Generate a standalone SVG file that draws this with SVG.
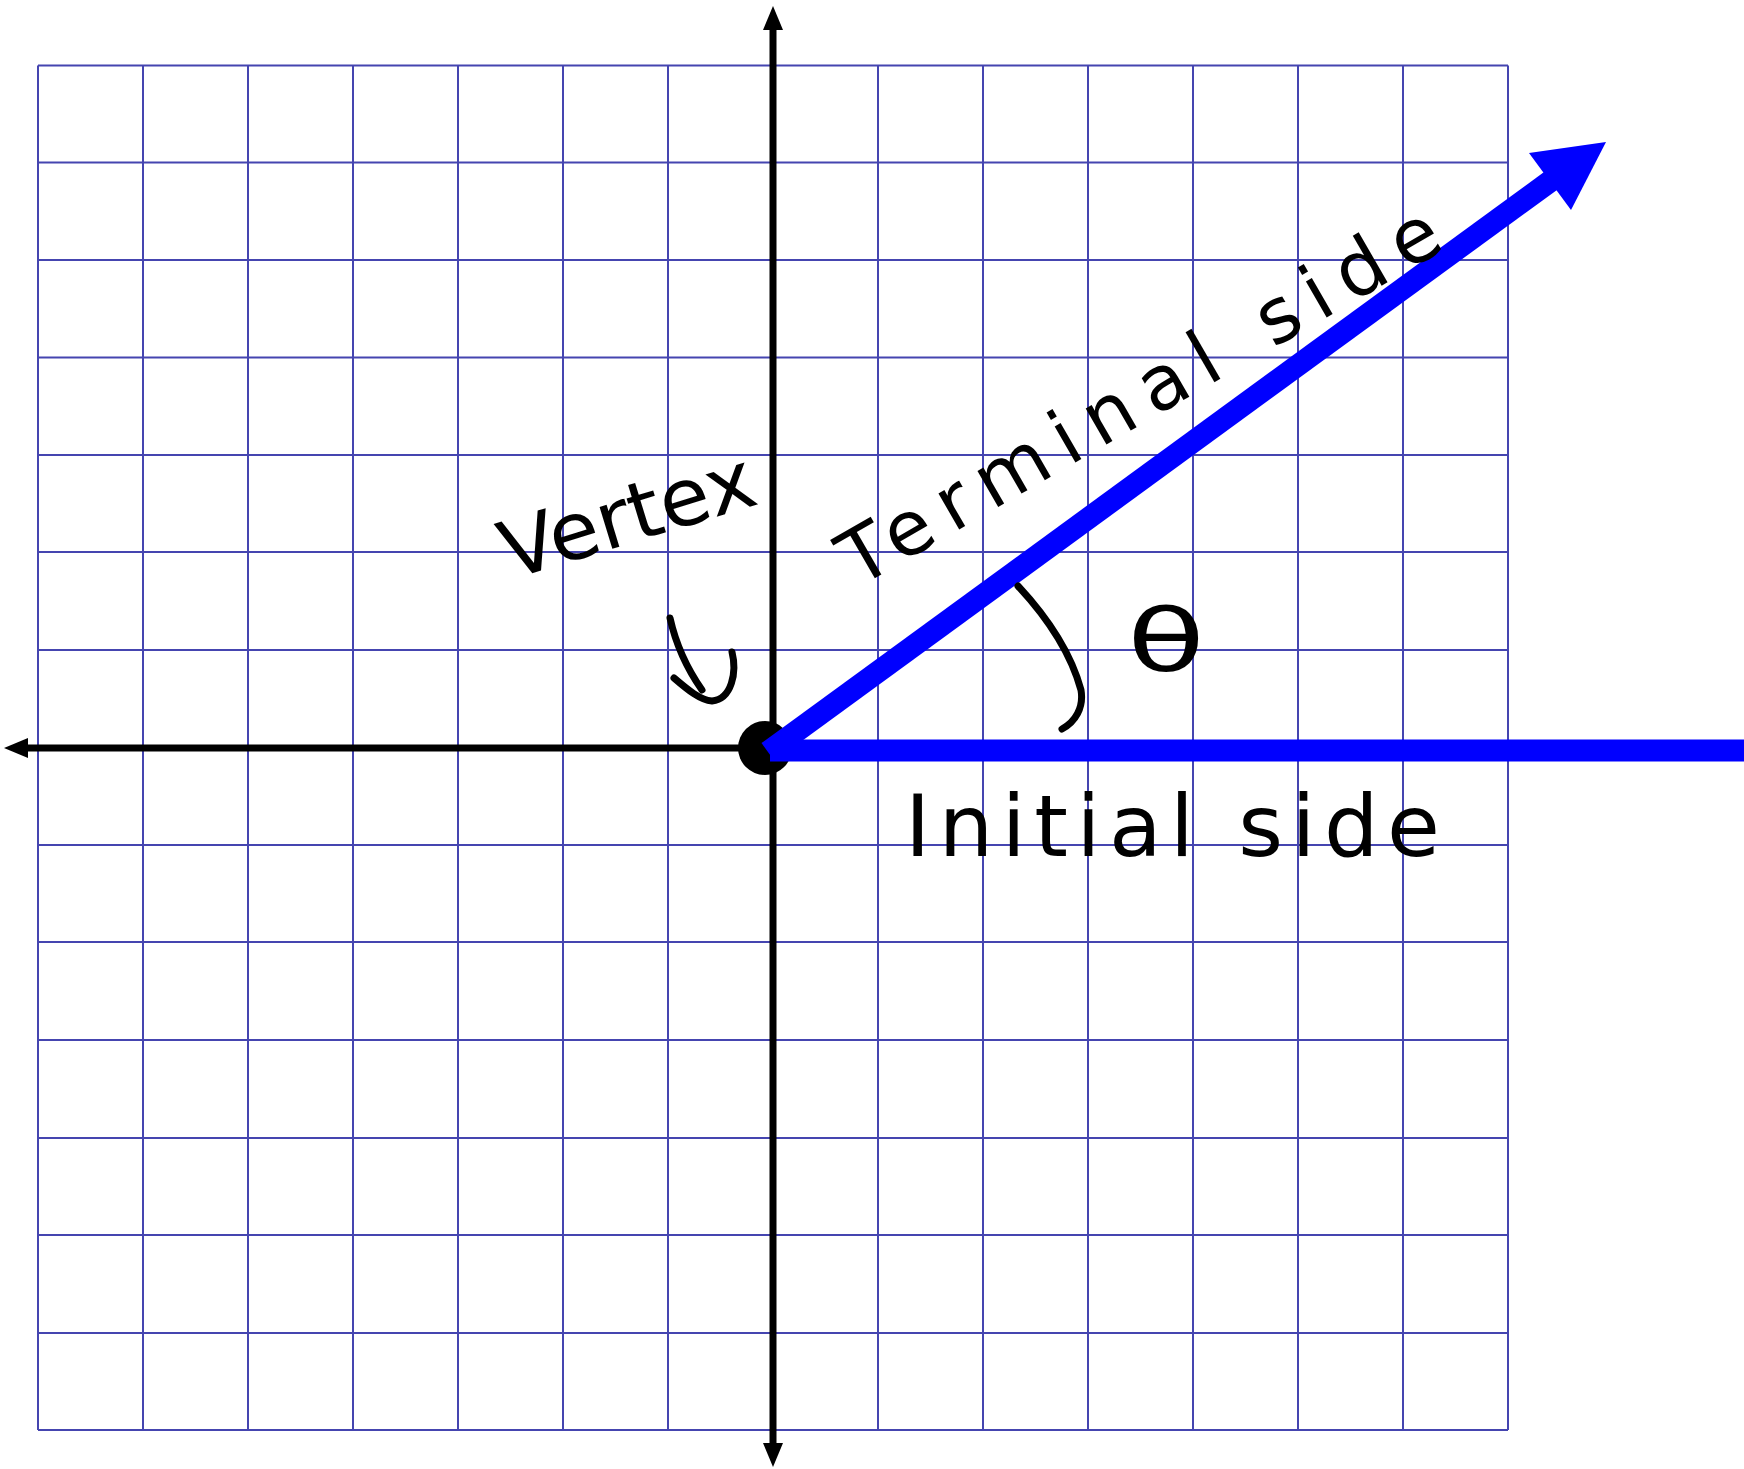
<svg xmlns="http://www.w3.org/2000/svg" width="1744" height="1469" viewBox="0 0 1744 1469">
  <style>
    .grid line { stroke: #4545b0; stroke-width: 2; }
    .axis { stroke: #000; stroke-width: 7; fill: none; }
    .ray { stroke: #0000ff; stroke-width: 22; fill: none; }
    .ink { stroke: #000; stroke-width: 7; fill: none; stroke-linecap: round; stroke-linejoin: round; }
    .hand { font-family: "DejaVu Sans", "Liberation Sans", sans-serif; fill: #000; }
  </style>
  <defs>
    <marker id="axhead" markerUnits="userSpaceOnUse" markerWidth="24" markerHeight="24" viewBox="0 0 24 24" refX="4" refY="12" orient="auto-start-reverse">
      <polygon points="0,2 24,12 0,22" fill="#000"/>
    </marker>
  </defs>
  <rect width="1744" height="1469" fill="#fff"/>
  <g id="grid" class="grid">
    <line x1="38" y1="65.5" x2="38" y2="1430"/>
    <line x1="143" y1="65.5" x2="143" y2="1430"/>
    <line x1="248" y1="65.5" x2="248" y2="1430"/>
    <line x1="353" y1="65.5" x2="353" y2="1430"/>
    <line x1="458" y1="65.5" x2="458" y2="1430"/>
    <line x1="563" y1="65.5" x2="563" y2="1430"/>
    <line x1="668" y1="65.5" x2="668" y2="1430"/>
    <line x1="773" y1="65.5" x2="773" y2="1430"/>
    <line x1="878" y1="65.5" x2="878" y2="1430"/>
    <line x1="983" y1="65.5" x2="983" y2="1430"/>
    <line x1="1088" y1="65.5" x2="1088" y2="1430"/>
    <line x1="1193" y1="65.5" x2="1193" y2="1430"/>
    <line x1="1298" y1="65.5" x2="1298" y2="1430"/>
    <line x1="1403" y1="65.5" x2="1403" y2="1430"/>
    <line x1="1508" y1="65.5" x2="1508" y2="1430"/>
    <line x1="38" y1="65.5" x2="1508" y2="65.5"/>
    <line x1="38" y1="162.5" x2="1508" y2="162.5"/>
    <line x1="38" y1="260" x2="1508" y2="260"/>
    <line x1="38" y1="357.5" x2="1508" y2="357.5"/>
    <line x1="38" y1="455" x2="1508" y2="455"/>
    <line x1="38" y1="552" x2="1508" y2="552"/>
    <line x1="38" y1="650" x2="1508" y2="650"/>
    <line x1="38" y1="748" x2="1508" y2="748"/>
    <line x1="38" y1="845" x2="1508" y2="845"/>
    <line x1="38" y1="942" x2="1508" y2="942"/>
    <line x1="38" y1="1040" x2="1508" y2="1040"/>
    <line x1="38" y1="1138" x2="1508" y2="1138"/>
    <line x1="38" y1="1235" x2="1508" y2="1235"/>
    <line x1="38" y1="1333" x2="1508" y2="1333"/>
    <line x1="38" y1="1430" x2="1508" y2="1430"/>
  </g>
  <g id="connectors">
    <line id="y-axis" class="axis" x1="773" y1="26" x2="773" y2="1447" marker-start="url(#axhead)" marker-end="url(#axhead)"/>
    <line id="x-axis" class="axis" x1="24" y1="748" x2="773" y2="748" marker-start="url(#axhead)"/>
  </g>
  <g id="vertex-node">
    <circle cx="765" cy="748" r="27" fill="#000"/>
  </g>
  <g id="initial-side">
    <line class="ray" x1="770" y1="750.5" x2="1744" y2="750.5"/>
  </g>
  <g id="terminal-side">
    <line class="ray" x1="768" y1="752" x2="1556" y2="177"/>
    <polygon points="1606,142 1529,153 1571,210" fill="#0000ff"/>
  </g>
  <g id="vertex-label">
    <text class="hand" x="510" y="580" font-size="80" textLength="262" lengthAdjust="spacingAndGlyphs" transform="rotate(-17 510 580)">Vertex</text>
    <path class="ink" d="M670,618 C676,645 688,670 702,690 M674,678 C688,690 700,700 712,701 C732,699 737,672 732,652"/>
  </g>
  <g id="terminal-label">
    <text class="hand" x="858" y="588" font-size="76" textLength="680" transform="rotate(-30 858 588)">Terminal side</text>
  </g>
  <g id="angle-label">
    <path class="ink" d="M1018,586 C1045,615 1070,650 1081,690 C1084,708 1075,722 1062,729"/>
    <text class="hand" x="0" y="0" font-size="88" text-anchor="middle" transform="translate(1166 671) scale(1.45 1)">θ</text>
  </g>
  <g id="initial-label">
    <text class="hand" x="905" y="856" font-size="86" textLength="535">Initial side</text>
  </g>
</svg>
